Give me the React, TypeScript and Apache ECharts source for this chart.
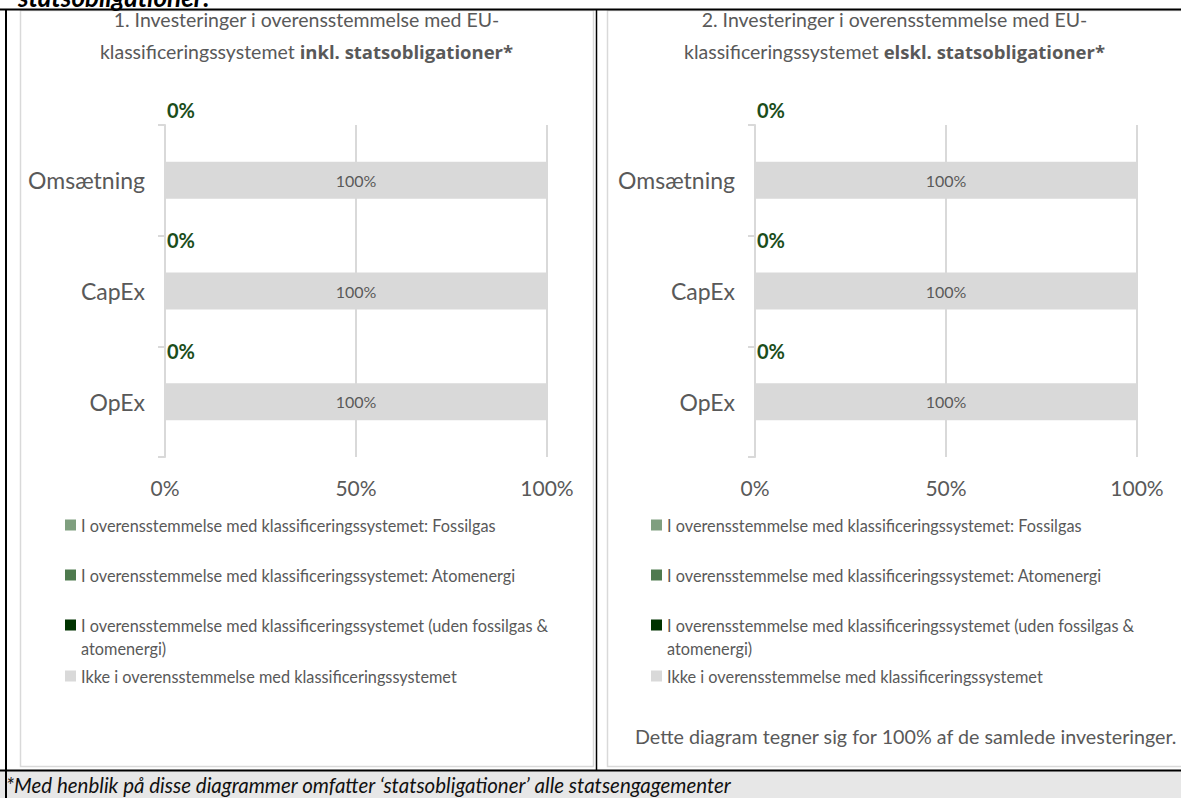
import React, { useEffect, useRef } from 'react';
import * as echarts from 'echarts';

const categories = ['Omsætning', 'CapEx', 'OpEx'];

const seriesNames = [
  'I overensstemmelse med klassificeringssystemet: Fossilgas',
  'I overensstemmelse med klassificeringssystemet: Atomenergi',
  'I overensstemmelse med klassificeringssystemet (uden fossilgas & atomenergi)',
  'Ikke i overensstemmelse med klassificeringssystemet',
];
const seriesColors = ['#7f9f7f', '#4e7a4e', '#003300', '#d9d9d9'];

// Chart 1: inkl. statsobligationer
const fossilgas1 = [0, 0, 0];
const atomenergi1 = [0, 0, 0];
const udenFossil1 = [0, 0, 0];
const ikke1 = [100, 100, 100];

// Chart 2: ekskl. statsobligationer
const fossilgas2 = [0, 0, 0];
const atomenergi2 = [0, 0, 0];
const udenFossil2 = [0, 0, 0];
const ikke2 = [100, 100, 100];

const xMin = 0;
const xMax = 100;
const xInterval = 50;

const FONT = 'Lato';
const GRAY = '#595959';
const zeroLabelDy = [-52, -32.5, -32];

const chartsData = [
  [fossilgas1, atomenergi1, udenFossil1, ikke1],
  [fossilgas2, atomenergi2, udenFossil2, ikke2],
];

const gridLefts = [165, 755];
const panelCenters = [306.5, 894.5];
const legendLefts = [65, 651];

function buildOption() {
  const grids = gridLefts.map((l) => ({ left: l, top: 125, width: 382, height: 332 }));
  const xAxes = gridLefts.map((_, i) => ({
    type: 'value',
    gridIndex: i,
    min: xMin,
    max: xMax,
    interval: xInterval,
    axisLine: { show: false },
    axisTick: { show: false },
    splitLine: { show: true, lineStyle: { color: '#d9d9d9', width: 2 } },
    axisLabel: {
      formatter: '{value}%',
      fontFamily: FONT,
      fontSize: 21,
      color: GRAY,
      margin: 20,
    },
  }));
  const yAxes = gridLefts.map((_, i) => ({
    type: 'category',
    gridIndex: i,
    data: categories,
    inverse: true,
    axisLine: { show: true, lineStyle: { color: '#d9d9d9', width: 2 } },
    axisTick: { show: true, length: 7, lineStyle: { color: '#d9d9d9', width: 2 } },
    axisLabel: { fontFamily: FONT, fontSize: 23, color: GRAY, margin: 20 },
  }));

  const series: any[] = [];
  chartsData.forEach((arrs, gi) => {
    arrs.forEach((vals, si) => {
      const s: any = {
        type: 'bar',
        name: seriesNames[si],
        xAxisIndex: gi,
        yAxisIndex: gi,
        stack: 'total' + gi,
        barWidth: 37,
        itemStyle: { color: seriesColors[si] },
        emphasis: { disabled: true },
        data: vals.map((v) => v),
      };
      if (si === 2) {
        s.data = vals.map((v, k) => ({
          value: v,
          label: {
            show: true,
            position: [2, zeroLabelDy[k]],
            align: 'left',
            verticalAlign: 'middle',
            formatter: '{c}%',
            fontFamily: FONT,
            fontWeight: 'bold',
            fontSize: 20,
            color: '#1b4d1b',
          },
        }));
      }
      if (si === 3) {
        s.label = {
          show: true,
          position: 'inside',
          formatter: '{c}%',
          fontFamily: FONT,
          fontSize: 16,
          color: GRAY,
        };
      }
      series.push(s);
    });
  });

  const legendTops = [516, 566, 613.5, 667];
  const legends: any[] = [];
  legendLefts.forEach((ll) => {
    seriesNames.forEach((name, si) => {
      const lg: any = {
        data: [name],
        left: ll,
        top: legendTops[si],
        orient: 'vertical',
        padding: 0,
        itemWidth: 11,
        itemHeight: 11,
        icon: 'rect',
        selectedMode: false,
        textStyle: { fontFamily: FONT, fontSize: 16.3, color: GRAY, lineHeight: 18 },
      };
      if (si === 2) {
        lg.icon = 'path://M0,0H11V11H0Z M0,33.9H0.1V34H0Z';
        lg.itemHeight = 34;
        lg.textStyle = { fontFamily: FONT, fontSize: 16.3, color: GRAY, lineHeight: 23 };
        lg.formatter = (n: string) => n.replace('& atomenergi)', '&\natomenergi)');
      }
      legends.push(lg);
    });
  });

  const titles = [
    '1. Investeringer i overensstemmelse med EU-\n{p|klassificeringssystemet} {b|inkl. statsobligationer*}',
    '2. Investeringer i overensstemmelse med EU-\n{p|klassificeringssystemet} {b|elskl. statsobligationer*}',
  ].map((t, i) => ({
    text: t,
    left: panelCenters[i],
    top: 3,
    textAlign: 'center',
    padding: 0,
    textStyle: {
      fontFamily: FONT,
      fontSize: 19.5,
      fontWeight: 'normal',
      color: GRAY,
      lineHeight: 32,
      rich: {
        p: { fontFamily: FONT, fontSize: 19.5, fontWeight: 'normal', color: GRAY, lineHeight: 32 },
        b: { fontFamily: 'Open Sans', fontSize: 18.5, fontWeight: 'bold', color: GRAY, lineHeight: 32 },
      },
    },
  }));

  const graphic = [
    { type: 'rect', shape: { x: 20.5, y: 10.5, width: 573, height: 756 }, style: { fill: 'none', stroke: '#d9d9d9', lineWidth: 1.5 }, z: -1 },
    { type: 'rect', shape: { x: 607.5, y: 10.5, width: 580, height: 756 }, style: { fill: 'none', stroke: '#d9d9d9', lineWidth: 1.5 }, z: -1 },
    { type: 'rect', shape: { x: 0, y: 771, width: 1181, height: 27 }, style: { fill: '#e7e7e7' } },
    {
      type: 'text', x: 18, y: 10,
      style: { text: 'statsobligationer:', fontFamily: FONT, fontSize: 26, fontWeight: 'bold', fontStyle: 'italic', fill: '#000', align: 'left', verticalAlign: 'bottom' },
    },
    { type: 'line', shape: { x1: 0, y1: 9.5, x2: 1181, y2: 9.5 }, style: { stroke: '#000', lineWidth: 2 } },
    { type: 'line', shape: { x1: 6, y1: 9, x2: 6, y2: 798 }, style: { stroke: '#000', lineWidth: 2 } },
    { type: 'line', shape: { x1: 596.5, y1: 10, x2: 596.5, y2: 771 }, style: { stroke: '#000', lineWidth: 1.5 } },
    { type: 'line', shape: { x1: 0, y1: 770.5, x2: 1181, y2: 770.5 }, style: { stroke: '#000', lineWidth: 2 } },
    {
      type: 'text', x: 6, y: 785,
      style: { text: '*Med henblik på disse diagrammer omfatter ‘statsobligationer’ alle statsengagementer', fontFamily: FONT, fontSize: 20.5, fontStyle: 'italic', fill: '#111', align: 'left', verticalAlign: 'middle' },
    },
    {
      type: 'text', x: 635, y: 736,
      style: { text: 'Dette diagram tegner sig for 100% af de samlede investeringer.', fontFamily: FONT, fontSize: 19.7, fill: GRAY, align: 'left', verticalAlign: 'middle' },
    },
  ];

  return {
    animation: false,
    backgroundColor: '#ffffff',
    title: titles,
    grid: grids,
    xAxis: xAxes,
    yAxis: yAxes,
    legend: legends,
    series,
    graphic,
  };
}

export default function App() {
  const ref = useRef<HTMLDivElement>(null);
  useEffect(() => {
    const chart = echarts.init(ref.current!, null, { renderer: 'svg' });
    chart.setOption(buildOption() as any);
    return () => chart.dispose();
  }, []);
  return (
    <div
      ref={ref}
      style={{ position: 'fixed', left: 0, top: 0, width: 1181, height: 798, background: '#fff' }}
    />
  );
}
